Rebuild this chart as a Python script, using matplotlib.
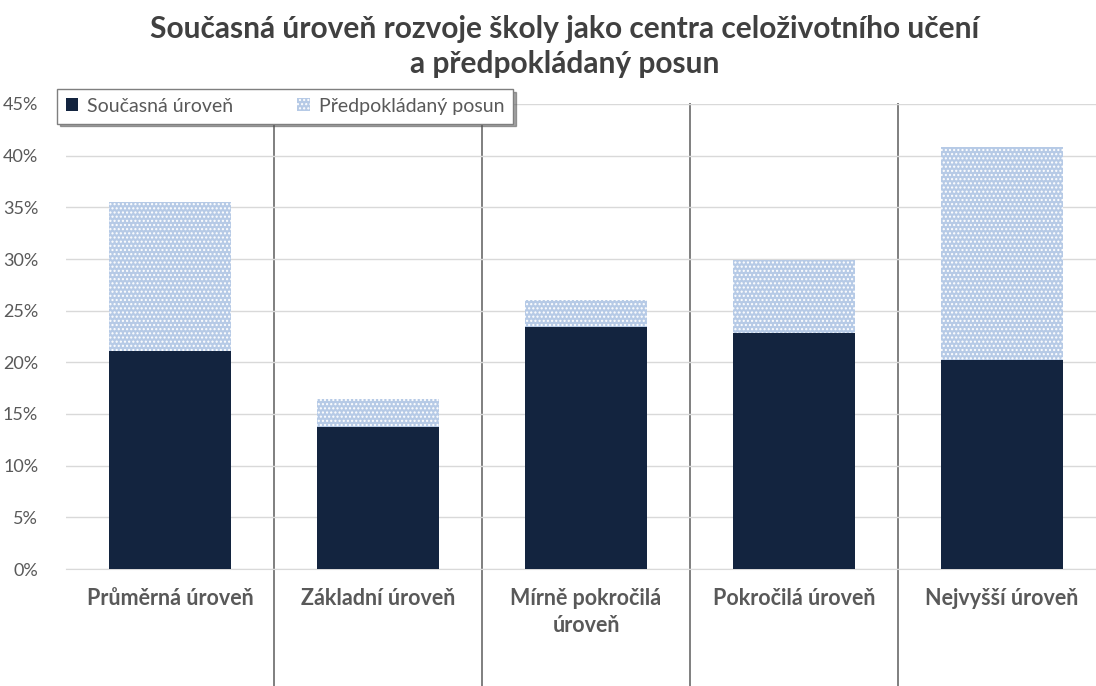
import numpy as np
import matplotlib
matplotlib.use("Agg")
import matplotlib.pyplot as plt
from matplotlib.ticker import PercentFormatter

plt.rcParams['font.family'] = ['Lato', 'DejaVu Sans']

# data
categories = ["Průměrná úroveň", "Základní úroveň", "Mírně pokročilá\núroveň",
              "Pokročilá úroveň", "Nejvyšší úroveň"]
current = [21.1, 13.7, 23.4, 22.8, 20.2]
shift = [14.4, 2.8, 2.6, 7.1, 20.6]
yticks = [0, 5, 10, 15, 20, 25, 30, 35, 40, 45]

navy = "#13243f"
light = "#b6cae6"
txt = "#595959"

fig = plt.figure(figsize=(10.96, 6.86), dpi=100)
ax = fig.add_axes([66 / 1096, 117 / 686, 1040 / 1096, 465 / 686])

x = np.arange(len(categories))
ax.bar(x, current, width=0.59, color=navy, label="Současná úroveň", zorder=3)
ax.bar(x, shift, width=0.59, bottom=current, facecolor=light, edgecolor="white",
       hatch="....", linewidth=0, label="Předpokládaný posun", zorder=3)

ax.set_xlim(-0.5, len(categories) - 0.5)
ax.set_ylim(0, 45)
ax.set_yticks(yticks)
ax.yaxis.set_major_formatter(PercentFormatter(decimals=0))
ax.grid(axis="y", color="#d9d9d9", linewidth=1, zorder=0)
ax.tick_params(axis="y", length=0, labelsize=13, colors=txt, pad=20)
ax.tick_params(axis="x", length=0, pad=14)
ax.set_xticks(x)
ax.set_xticklabels(categories, fontsize=15.5, fontweight="bold", color=txt,
                   va="top", linespacing=1.3)
for s in ax.spines.values():
    s.set_visible(False)
ax.spines["bottom"].set_visible(True)
ax.spines["bottom"].set_color("#d9d9d9")

# category separators (Excel style)
trans = ax.get_xaxis_transform()
for b in np.arange(0.5, len(categories) - 1, 1.0):
    ax.plot([b, b], [-0.26, 1.0], transform=trans, color="#7f7f7f",
            linewidth=1.4, clip_on=False, zorder=1)

leg = ax.legend(loc="upper left", bbox_to_anchor=(-9 / 1040, 1 + 15 / 465),
                ncol=2, frameon=True, fontsize=14, fancybox=False,
                shadow=True, borderpad=0.45, handlelength=0.65, handleheight=0.65,
                columnspacing=3.3, handletextpad=0.45, borderaxespad=0)
leg.get_frame().set_edgecolor("#7f7f7f")
leg.get_frame().set_linewidth(1.0)
leg.set_zorder(5)
for t in leg.get_texts():
    t.set_color(txt)

fig.text(0.515, 0.932, "Současná úroveň rozvoje školy jako centra celoživotního učení\na předpokládaný posun",
         ha="center", va="center", fontsize=21.5, fontweight="bold", color="#404040",
         linespacing=1.3)

fig.savefig("out.png", dpi=100, facecolor="white")
